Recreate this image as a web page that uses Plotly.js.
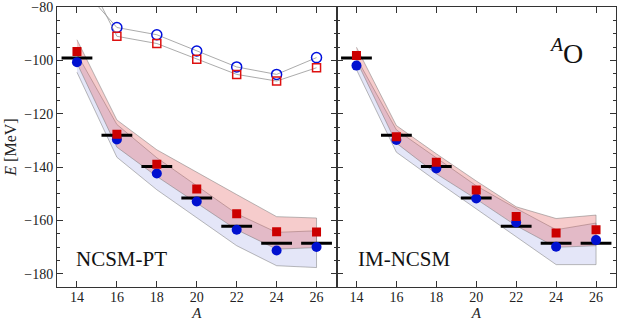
<!DOCTYPE html>
<html>
<head>
<meta charset="utf-8">
<script src="https://cdn.plot.ly/plotly-3.0.1.min.js"></script>
<style>
  html, body { margin: 0; padding: 0; background: #fff; }
  #chart { width: 623px; height: 322px; }
</style>
</head>
<body>
<div id="chart"></div>
<script>
// mass numbers
var A = [14, 16, 18, 20, 22, 24, 26];
// experiment (black bars), same in both panels
var expE = [-99.0, -128.0, -139.8, -151.6, -162.2, -168.6, -168.6];

// NCSM-PT panel
var ptBlue = [-100.6, -129.6, -142.4, -152.9, -163.5, -171.3, -170.0];
var ptRed = [-96.6, -127.7, -138.9, -148.2, -157.5, -164.3, -164.4];
var ptBlueLo = [-104.4, -136.3, -148.5, -159.0, -169.5, -177.0, -177.7];
var ptBlueHi = [-97.5, -124.0, -136.5, -147.0, -157.5, -164.5, -163.9];
var ptRedLo = [-101.0, -132.5, -143.5, -153.5, -163.5, -170.8, -170.2];
var ptRedHi = [-92.2, -122.3, -133.5, -142.0, -150.3, -158.6, -159.1];
// open symbols (A=14 lies above the plot range)
var openBlue = [-70.7, -87.6, -90.3, -96.4, -102.4, -105.2, -98.9];
var openRed = [-61.3, -90.9, -93.6, -99.5, -105.2, -107.7, -102.7];

// IM-NCSM panel
var imBlue = [-101.9, -129.8, -140.5, -151.8, -160.8, -169.9, -167.4];
var imRed = [-98.1, -128.6, -138.2, -148.6, -158.5, -164.7, -163.5];
var imBlueLo = [-103.4, -134.4, -145.2, -155.8, -166.2, -176.6, -176.6];
var imBlueHi = [-99.0, -126.0, -136.5, -147.0, -155.5, -163.5, -161.0];
var imRedLo = [-100.0, -131.0, -142.5, -152.0, -162.0, -170.1, -169.5];
var imRedHi = [-95.0, -124.4, -135.0, -145.2, -154.9, -159.3, -158.0];

var blueFill = 'rgba(120,130,220,0.2)';
var redFill = 'rgba(225,85,85,0.30)';
var edge = 'rgba(120,120,120,0.5)';
var serif = 'Liberation Serif, Times New Roman, serif';

function band(xa, ya, lo, hi, color) {
  return {
    x: A.concat(A.slice().reverse()),
    y: hi.concat(lo.slice().reverse()),
    xaxis: xa, yaxis: ya, mode: 'lines', fill: 'toself', fillcolor: color,
    line: {color: edge, width: 1}, hoverinfo: 'skip'
  };
}

function pts(xa, ya, y, sym, color, size) {
  return {x: A, y: y, xaxis: xa, yaxis: ya, mode: 'markers',
    marker: {symbol: sym, color: color, size: size}};
}

function bars(xa, ya) {
  return {x: A, y: expE, xaxis: xa, yaxis: ya, mode: 'markers',
    marker: {symbol: 'line-ew', size: 22, line: {color: '#000', width: 3}}};
}

function openLine(y, sym, color, size) {
  return {x: A, y: y, xaxis: 'x', yaxis: 'y', mode: 'lines+markers',
    line: {color: 'rgba(150,150,150,0.8)', width: 1},
    marker: {symbol: sym, size: size, color: color, line: {width: 1.5}}};
}

var data = [
  band('x', 'y', ptBlueLo, ptBlueHi, blueFill),
  band('x', 'y', ptRedLo, ptRedHi, redFill),
  openLine(openBlue, 'circle-open', '#0010dd', 10),
  openLine(openRed, 'square-open', '#dd1010', 8),
  bars('x', 'y'),
  pts('x', 'y', ptBlue, 'circle', '#0010d0', 10),
  pts('x', 'y', ptRed, 'square', '#cc0000', 9),

  band('x2', 'y2', imBlueLo, imBlueHi, blueFill),
  band('x2', 'y2', imRedLo, imRedHi, redFill),
  bars('x2', 'y2'),
  pts('x2', 'y2', imBlue, 'circle', '#0010d0', 10),
  pts('x2', 'y2', imRed, 'square', '#cc0000', 9)
];

var xBase = {
  range: [13, 27], tickvals: A, ticks: 'inside', ticklen: 6, tickcolor: '#333',
  mirror: 'ticks', showline: true, linecolor: '#333', linewidth: 1,
  showgrid: false, zeroline: false, automargin: false, ticklabelstandoff: -3,
  tickfont: {family: serif, size: 14, color: '#222'},
  title: {text: '<i>A</i>', font: {family: serif, size: 15, color: '#222'}, standoff: 3}
};
var yBase = {
  range: [-185, -79.9], tick0: -80, dtick: 20, ticks: 'inside', ticklen: 6, tickcolor: '#333',
  minor: {dtick: 5, ticks: 'inside', ticklen: 3, tickcolor: '#333'},
  mirror: 'ticks', showline: true, linecolor: '#333', linewidth: 1,
  showgrid: false, zeroline: false, automargin: false,
  tickfont: {family: serif, size: 14, color: '#222'}
};

var layout = {
  width: 623, height: 322,
  margin: {l: 57, r: 7, t: 7, b: 35},
  showlegend: false,
  paper_bgcolor: '#fff', plot_bgcolor: '#fff',
  font: {family: serif, color: '#222'},
  xaxis: Object.assign({}, xBase, {domain: [0, 0.5], anchor: 'y'}),
  xaxis2: Object.assign({}, xBase, {domain: [0.5, 1], anchor: 'y2'}),
  yaxis: Object.assign({}, yBase, {anchor: 'x',
    title: {text: '<i>E</i> [MeV]', font: {family: serif, size: 16, color: '#222'}, standoff: 3}}),
  yaxis2: Object.assign({}, yBase, {anchor: 'x2', showticklabels: false}),
  annotations: [
    {xref: 'x', yref: 'y', x: 13.85, y: -174.4, xanchor: 'left', yanchor: 'middle',
      text: 'NCSM-PT', showarrow: false, font: {family: serif, size: 21, color: '#111'}},
    {xref: 'x2', yref: 'y2', x: 14.0, y: -174.4, xanchor: 'left', yanchor: 'middle',
      text: 'IM-NCSM', showarrow: false, font: {family: serif, size: 21, color: '#111'}},
    {xref: 'x2', yref: 'y2', x: 23.55, y: -96.5, xanchor: 'left', yanchor: 'middle',
      text: '<sup><i>A</i></sup>O', showarrow: false, font: {family: serif, size: 28, color: '#111'}}
  ]
};

Plotly.newPlot(document.getElementById('chart'), data, layout, {staticPlot: true});
</script>
</body>
</html>
